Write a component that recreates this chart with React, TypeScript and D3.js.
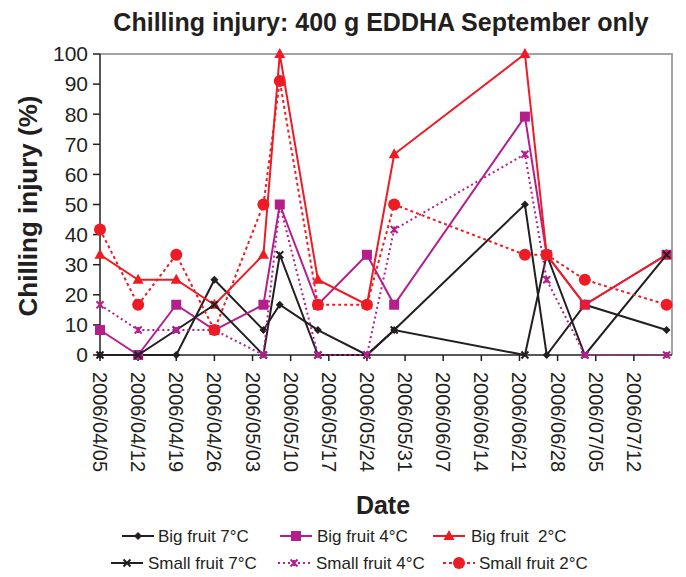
import React from 'react';
import * as d3 from 'd3';

const BLACK = '#231f20';
const MAGENTA = '#b41f8c';
const RED = '#ed1c24';
const FRAME = '#a3a3a3';
const FONT = '"Liberation Sans", Arial, Helvetica, sans-serif';

// sampling dates
const dates = [
	'2006/04/05', '2006/04/12', '2006/04/19', '2006/04/26', '2006/05/05', '2006/05/08', '2006/05/15',
	'2006/05/24', '2006/05/29', '2006/06/22', '2006/06/26', '2006/07/03', '2006/07/18',
];

// chilling injury (%) per series
const bigFruit7 = [0, 0, 0, 25, 8.3, 16.7, 8.3, 0, 8.3, 50, 0, 16.7, 8.3];
const bigFruit4 = [8.3, 0, 16.7, 8.3, 16.7, 50, 16.7, 33.3, 16.7, 79.2, 33.3, 16.7, 33.3];
const bigFruit2 = [33.3, 25, 25, 16.7, 33.3, 100, 25, 16.7, 66.7, 100, 33.3, 16.7, 33.3];
const smallFruit7 = [0, 0, 8.3, 16.7, 0, 33.3, 0, 0, 8.3, 0, 33.3, 0, 33.3];
const smallFruit4 = [16.7, 8.3, 8.3, 8.3, 0, 50, 0, 0, 41.7, 66.7, 25, 0, 0];
const smallFruit2 = [41.7, 16.7, 33.3, 8.3, 50, 91, 16.7, 16.7, 50, 33.3, 33.3, 25, 16.7];

const xTickLabels = [
	'2006/04/05', '2006/04/12', '2006/04/19', '2006/04/26', '2006/05/03', '2006/05/10', '2006/05/17',
	'2006/05/24', '2006/05/31', '2006/06/07', '2006/06/14', '2006/06/21', '2006/06/28', '2006/07/05',
	'2006/07/12',
];
const yTicks = [0, 10, 20, 30, 40, 50, 60, 70, 80, 90, 100];

const parse = d3.timeParse('%Y/%m/%d');

const SERIES = [
	{ name: 'Big fruit 7°C', values: bigFruit7, color: BLACK, shape: 'diamond', dash: null },
	{ name: 'Big fruit 4°C', values: bigFruit4, color: MAGENTA, shape: 'square', dash: null },
	{ name: 'Big fruit  2°C', values: bigFruit2, color: RED, shape: 'triangle', dash: null },
	{ name: 'Small fruit 7°C', values: smallFruit7, color: BLACK, shape: 'cross', dash: null },
	{ name: 'Small fruit 4°C', values: smallFruit4, color: MAGENTA, shape: 'star', dash: '2 3' },
	{ name: 'Small fruit 2°C', values: smallFruit2, color: RED, shape: 'circle', dash: '3 3' },
];

function Marker({ shape, x, y, color }) {
	switch (shape) {
		case 'diamond':
			return <path d={`M${x},${y - 4}L${x + 4},${y}L${x},${y + 4}L${x - 4},${y}Z`} fill={color} />;
		case 'square':
			return <rect x={x - 5} y={y - 5} width={10} height={10} fill={color} />;
		case 'triangle':
			return <path d={`M${x},${y - 6}L${x + 5.5},${y + 4}L${x - 5.5},${y + 4}Z`} fill={color} />;
		case 'circle':
			return <circle cx={x} cy={y} r={6} fill={color} />;
		case 'cross':
			return (
				<path d={`M${x - 3.5},${y - 3.5}L${x + 3.5},${y + 3.5}M${x + 3.5},${y - 3.5}L${x - 3.5},${y + 3.5}`} stroke={color} strokeWidth={2} />
			);
		case 'star':
			return (
				<path
					d={`M${x - 3.5},${y - 3.5}L${x + 3.5},${y + 3.5}M${x + 3.5},${y - 3.5}L${x - 3.5},${y + 3.5}M${x},${y - 3}L${x},${y + 3}`}
					stroke={color}
					strokeWidth={2}
				/>
			);
		default:
			return null;
	}
}

export default function App() {
	const W = 686;
	const H = 577;
	const left = 100;
	const right = 672;
	const top = 54;
	const bottom = 355;

	const x = d3.scaleTime().domain([parse('2006/04/05'), parse('2006/07/19')]).range([left, right]);
	const y = d3.scaleLinear().domain([0, 100]).range([bottom, top]);
	const xs = dates.map(parse);

	const lineGen = d3
		.line<number>()
		.x((_, i) => x(xs[i]))
		.y((v) => y(v));

	const legendRows = [
		{ yy: 536, items: [[122, 158], [280, 317], [433, 471]] },
		{ yy: 563, items: [[111, 148], [278, 316], [443, 479]] },
	];

	return (
		<svg
			width={W}
			height={H}
			style={{ position: 'absolute', left: 0, top: 0, background: '#fff' }}
			fontFamily={FONT}
		>
			<rect width={W} height={H} fill="#fff" />
			<text x={381} y={31} textAnchor="middle" fontWeight="bold" fontSize={25} fill={BLACK}>
				Chilling injury: 400 g EDDHA September only
			</text>

			{/* frame */}
			<path d={`M${left},${top}H${right}V${bottom}`} fill="none" stroke={FRAME} strokeWidth={2} />
			<line x1={left} x2={left} y1={top} y2={bottom} stroke={BLACK} strokeWidth={1.5} />
			<line x1={left} x2={right} y1={bottom} y2={bottom} stroke={BLACK} strokeWidth={1.5} />

			{yTicks.map((t) => (
				<g key={t}>
					<line x1={left - 7} x2={left} y1={y(t)} y2={y(t)} stroke={BLACK} strokeWidth={1.5} />
					<text x={88} y={y(t)} dy="0.35em" textAnchor="end" fontSize={21} fill={BLACK}>
						{t}
					</text>
				</g>
			))}

			{xTickLabels.map((lab) => {
				const tx = x(parse(lab));
				return (
					<g key={lab}>
						<line x1={tx} x2={tx} y1={bottom} y2={bottom + 6} stroke={BLACK} strokeWidth={1.5} />
						<text
							transform={`translate(${tx},${bottom + 17}) rotate(90)`}
							dy="0.35em"
							fontSize={20}
							fill={BLACK}
						>
							{lab}
						</text>
					</g>
				);
			})}

			<text
				transform="translate(28,206) rotate(-90)"
				dy="0.35em"
				textAnchor="middle"
				fontWeight="bold"
				fontSize={26}
				fill={BLACK}
			>
				Chilling injury (%)
			</text>
			<text x={383} y={514} textAnchor="middle" fontWeight="bold" fontSize={25} fill={BLACK}>
				Date
			</text>

			{SERIES.map((s) => (
				<g key={s.name}>
					<path
						d={lineGen(s.values) || ''}
						fill="none"
						stroke={s.color}
						strokeWidth={2}
						strokeDasharray={s.dash || undefined}
					/>
					{s.values.map((v, i) => (
						<Marker key={i} shape={s.shape} x={x(xs[i])} y={y(v)} color={s.color} />
					))}
				</g>
			))}

			{SERIES.map((s, i) => {
				const row = legendRows[Math.floor(i / 3)];
				const [lx, tx] = row.items[i % 3];
				return (
					<g key={`lg-${s.name}`}>
						<line
							x1={lx}
							x2={lx + 32}
							y1={row.yy}
							y2={row.yy}
							stroke={s.color}
							strokeWidth={2}
							strokeDasharray={s.dash || undefined}
						/>
						<Marker shape={s.shape} x={lx + 16} y={row.yy} color={s.color} />
						<text x={tx} y={row.yy} dy="0.35em" fontSize={17} fill={BLACK} style={{ whiteSpace: 'pre' }}>
							{s.name}
						</text>
					</g>
				);
			})}
		</svg>
	);
}
